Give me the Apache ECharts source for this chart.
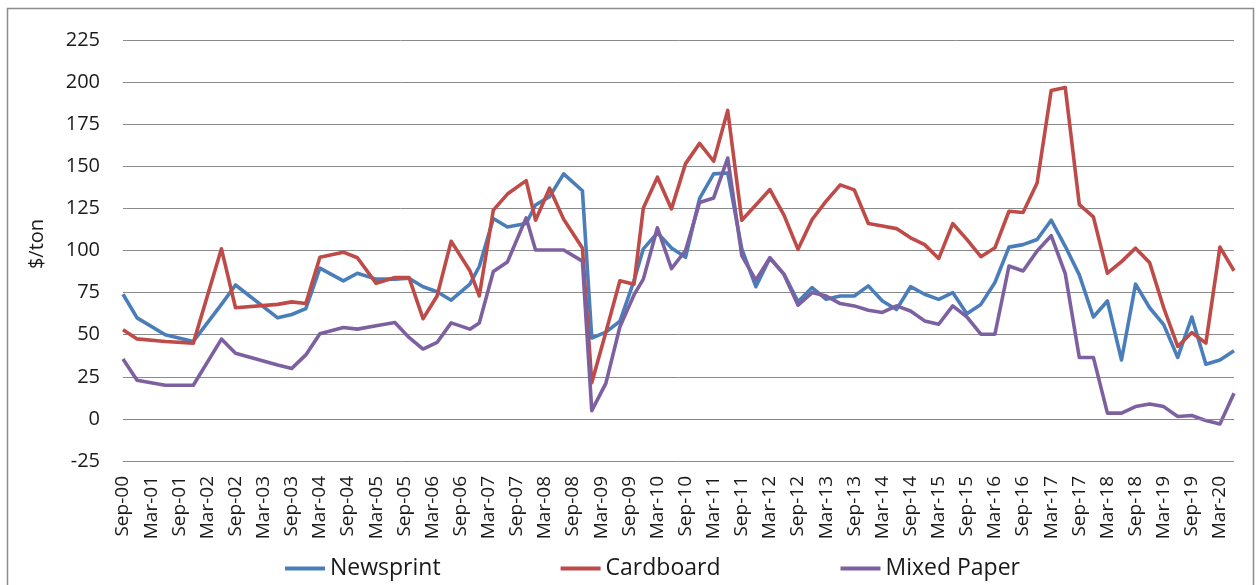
<!DOCTYPE html>
<html>
<head>
<meta charset="utf-8">
<script src="https://cdn.jsdelivr.net/npm/echarts@6/dist/echarts.min.js"></script>
<style>
  html, body { margin: 0; padding: 0; background: #fff; }
  #chart { width: 1259px; height: 585px; }
</style>
</head>
<body>
<div id="chart"></div>
<script>
// monthly axis Sep-00 .. Jun-20, labels every 6 months
const monthNames = ['Jan','Feb','Mar','Apr','May','Jun','Jul','Aug','Sep','Oct','Nov','Dec'];
const months = [];
for (let k = 0; k <= 237; k++) {
    const t = 8 + k;
    const yy = (2000 + Math.floor(t / 12)) % 100;
    months.push(monthNames[t % 12] + '-' + String(yy).padStart(2, '0'));
}

const yTicks = [-25, 0, 25, 50, 75, 100, 125, 150, 175, 200, 225];

// sample dates
const dates = ['Sep-00','Dec-00','Jun-01','Dec-01','Jun-02','Sep-02','Jun-03','Sep-03','Dec-03','Mar-04',
    'Aug-04','Nov-04','Mar-05','Jul-05','Oct-05','Jan-06','Apr-06','Jul-06','Nov-06','Jan-07',
    'Apr-07','Jul-07','Nov-07','Jan-08','Apr-08','Jul-08','Nov-08','Jan-09','Apr-09','Jul-09',
    'Oct-09','Dec-09','Mar-10','Jun-10','Sep-10','Dec-10','Mar-11','Jun-11','Sep-11','Dec-11',
    'Mar-12','Jun-12','Sep-12','Dec-12','Mar-13','Jun-13','Sep-13','Dec-13','Mar-14','Jun-14',
    'Sep-14','Dec-14','Mar-15','Jun-15','Sep-15','Dec-15','Mar-16','Jun-16','Sep-16','Dec-16',
    'Mar-17','Jun-17','Sep-17','Dec-17','Mar-18','Jun-18','Sep-18','Dec-18','Mar-19','Jun-19',
    'Sep-19','Dec-19','Mar-20','Jun-20'];

const newsprint = [74, 60, 50, 46, 68, 79.5, 60, 62, 65.5, 89.5,
    82, 86.5, 83, 83, 83.5, 78.5, 75.5, 70.5, 80, 90.5,
    119, 114, 116, 127, 132, 145.5, 135.5, 48, 51.5, 58,
    82, 101, 110.5, 101.5, 96, 131, 145.5, 146, 101, 78.5,
    95.5, 86, 69.5, 78, 71, 73, 73, 79, 70, 65,
    78.5, 74, 71, 75, 62.5, 68, 81, 102, 103.5, 106.5,
    118, 102.5, 85.5, 60.5, 70, 35, 80, 66, 56, 36.5,
    60.5, 32.5, 35, 40.5];

const cardboard = [53, 47.5, 46, 45, 101, 66, 68, 69.5, 68.5, 96,
    99, 95.7, 80.5, 84, 84, 59.5, 73, 105.5, 88, 73,
    124, 133.5, 141.5, 118, 137, 118.5, 101.5, 21.5, 51.5, 82,
    80, 125.3, 143.5, 124.7, 151.6, 163.6, 153, 183.2, 118, 127,
    136.2, 121, 100.7, 118.4, 129.3, 139, 136, 116, 114.5, 113,
    107.5, 103.5, 95.2, 116, 106.6, 96.3, 101.6, 123.3, 122.6, 140.1,
    195, 196.8, 127.3, 120, 86.5, 93.4, 101.4, 92.8, 66, 43,
    51.3, 45, 102, 88];

const mixedPaper = [35.5, 23, 20, 20, 47.4, 39, 32, 30, 38, 50.5,
    54.3, 53.3, 55.3, 57.2, 48.4, 41.5, 45.4, 57, 53.3, 57,
    87.5, 93.2, 119.4, 100.3, 100.3, 100.3, 93.7, 4.9, 21.1, 54.7,
    73.6, 83, 113.5, 89.2, 100, 128.5, 131.2, 154.9, 97, 82.4,
    95.7, 85.8, 67.5, 75, 73, 68.5, 67.1, 64.5, 63.2, 67.1,
    64.1, 58.2, 56.2, 67.1, 60.6, 50.3, 50.3, 90.8, 87.8, 99.7,
    108.8, 86.3, 36.5, 36.5, 3.4, 3.4, 7.3, 8.9, 7.3, 1.4,
    2, -1, -3, 15.2];

const FONT = '"Open Sans", "Noto Sans", sans-serif';

function pairs(vals) {
    return dates.map((d, i) => [d, vals[i]]);
}

function lineSeries(name, color, vals) {
    return {
        name: name,
        type: 'line',
        data: pairs(vals),
        symbol: 'none',
        lineStyle: { color: color, width: 3.6, join: 'round' },
        itemStyle: { color: color },
        animation: false
    };
}

const series = [
    lineSeries('Newsprint', '#4A7EBB', newsprint),
    lineSeries('Cardboard', '#BE4B48', cardboard),
    lineSeries('Mixed Paper', '#7D60A0', mixedPaper)
];
// purple zero line
series[2].markLine = {
    silent: true,
    symbol: 'none',
    label: { show: false },
    lineStyle: { color: '#8E79B4', width: 1, type: 'solid' },
    data: [{ yAxis: 0 }]
};

var myChart = echarts.init(document.getElementById('chart'));
myChart.setOption({
    animation: false,
    backgroundColor: '#fff',
    grid: { left: 123, right: 25, top: 40, bottom: 124 },
    legend: {
        left: 280,
        top: 552,
        icon: 'rect',
        itemWidth: 40,
        itemHeight: 4,
        itemGap: 120,
        textStyle: { fontSize: 23, fontFamily: FONT, color: '#1a1a1a' },
        data: ['Newsprint', 'Cardboard', 'Mixed Paper']
    },
    xAxis: {
        type: 'category',
        data: months,
        boundaryGap: false,
        axisLine: { show: false },
        axisTick: { show: false },
        splitLine: { show: false },
        axisLabel: {
            interval: function (idx) { return idx % 6 === 0; },
            rotate: 90,
            margin: 15,
            fontSize: 19,
            fontFamily: FONT,
            color: '#1a1a1a'
        }
    },
    yAxis: {
        type: 'value',
        min: yTicks[0],
        max: yTicks[yTicks.length - 1],
        interval: 25,
        axisLine: { show: false },
        axisTick: { show: false },
        splitLine: { lineStyle: { color: '#8a8a8a', width: 1 } },
        axisLabel: { margin: 23, fontSize: 20, fontFamily: FONT, color: '#1a1a1a' }
    },
    graphic: [
        {
            type: 'rect',
            silent: true,
            shape: { x: 7.5, y: 8.5, width: 1246, height: 620 },
            style: { fill: 'none', stroke: '#8c8c8c', lineWidth: 1.5 }
        },
        {
            type: 'text',
            x: 37,
            y: 244,
            rotation: Math.PI / 2,
            style: {
                text: '$/ton',
                fontSize: 20,
                fontFamily: FONT,
                fill: '#1a1a1a',
                align: 'center',
                verticalAlign: 'middle'
            }
        }
    ],
    series: series
});
</script>
</body>
</html>
